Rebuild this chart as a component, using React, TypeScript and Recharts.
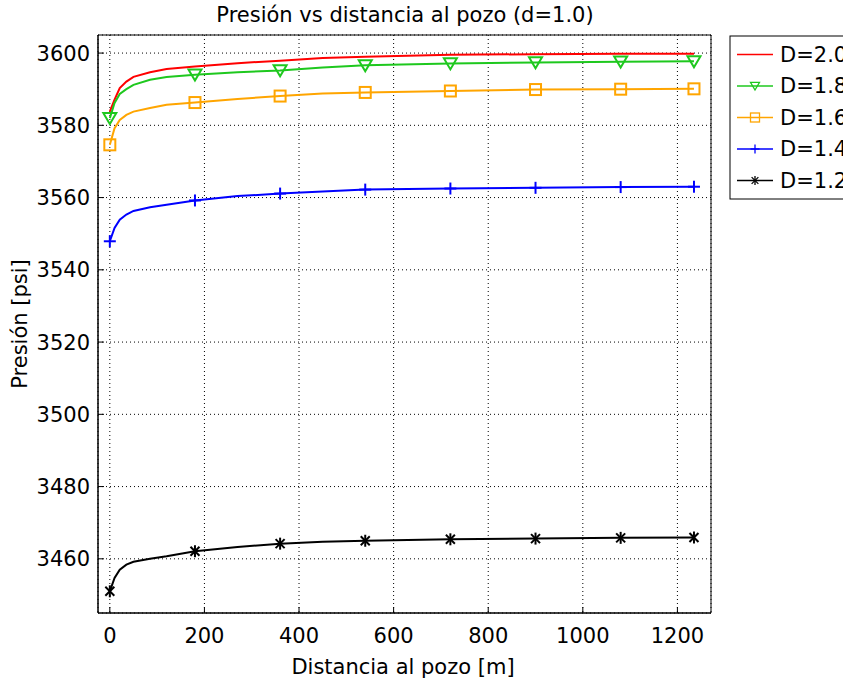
import React from 'react';
import { LineChart, Line, XAxis, YAxis, CartesianGrid, ReferenceArea, Label } from 'recharts';

// distance to the well [m]
const distances = [0, 10, 21, 35, 50, 85, 120, 180, 270, 360, 450, 540, 720, 900, 1080, 1235];
// marker positions (every 180 m + last point)
const markerAt = [0, 180, 360, 540, 720, 900, 1080, 1235];

const pD20 = [3583.8, 3587.1, 3590.3, 3592.1, 3593.4, 3594.7, 3595.6, 3596.3, 3597.2, 3597.9, 3598.6, 3599.0, 3599.5, 3599.7, 3599.8, 3599.8];
const pD18 = [3582.0, 3586.2, 3588.7, 3590.0, 3591.2, 3592.6, 3593.4, 3594.0, 3594.7, 3595.2, 3596.0, 3596.6, 3597.1, 3597.4, 3597.6, 3597.7];
const pD16 = [3574.6, 3579.2, 3581.5, 3582.9, 3583.8, 3584.8, 3585.7, 3586.3, 3587.3, 3588.1, 3588.8, 3589.1, 3589.5, 3589.9, 3590.0, 3590.1];
const pD14 = [3547.9, 3551.6, 3553.9, 3555.3, 3556.3, 3557.3, 3558.0, 3559.2, 3560.4, 3561.1, 3561.7, 3562.2, 3562.5, 3562.7, 3562.9, 3563.0];
const pD12 = [3451.0, 3454.7, 3457.0, 3458.4, 3459.2, 3460.0, 3460.7, 3462.1, 3463.3, 3464.2, 3464.7, 3465.0, 3465.4, 3465.6, 3465.8, 3465.9];

const xTicks = [0, 200, 400, 600, 800, 1000, 1200];
const yTicks = [3460, 3480, 3500, 3520, 3540, 3560, 3580, 3600];

const title = 'Presión vs distancia al pozo (d=1.0)';
const xLabel = 'Distancia al pozo [m]';
const yLabel = 'Presión [psi]';

const series = [
  { key: 'd20', name: 'D=2.0', color: '#ff0000', marker: 'none', values: pD20 },
  { key: 'd18', name: 'D=1.8', color: '#1ec81e', marker: 'tri', values: pD18 },
  { key: 'd16', name: 'D=1.6', color: '#ffa500', marker: 'square', values: pD16 },
  { key: 'd14', name: 'D=1.4', color: '#0000ff', marker: 'plus', values: pD14 },
  { key: 'd12', name: 'D=1.2', color: '#000000', marker: 'star', values: pD12 },
];

const data = distances.map((x, i) => {
  const row: any = { x, mk: markerAt.includes(x) };
  series.forEach((s) => { row[s.key] = s.values[i]; });
  return row;
});

const FONT = 'DejaVu Sans';
const FS = 21;
const X_DOMAIN: [number, number] = [-25, 1271];
const Y_DOMAIN: [number, number] = [3445, 3605];

function MarkerShape({ type, cx, cy, color, size, sw = 2 }: { type: string; cx: number; cy: number; color: string; size: number; sw?: number }) {
  const h = size / 2;
  if (type === 'tri') {
    return <polygon points={`${cx - h},${cy - h * 0.8} ${cx + h},${cy - h * 0.8} ${cx},${cy + h * 0.9}`} fill="none" stroke={color} strokeWidth={sw} />;
  }
  if (type === 'square') {
    return <rect x={cx - h} y={cy - h} width={size} height={size} fill="none" stroke={color} strokeWidth={sw} />;
  }
  if (type === 'plus') {
    return (
      <g stroke={color} strokeWidth={sw}>
        <line x1={cx - h} y1={cy} x2={cx + h} y2={cy} />
        <line x1={cx} y1={cy - h} x2={cx} y2={cy + h} />
      </g>
    );
  }
  if (type === 'star') {
    const d = h * 0.75;
    return (
      <g stroke={color} strokeWidth={sw}>
        <line x1={cx - d} y1={cy - d} x2={cx + d} y2={cy + d} />
        <line x1={cx - d} y1={cy + d} x2={cx + d} y2={cy - d} />
        <line x1={cx} y1={cy - h} x2={cx} y2={cy + h} />
      </g>
    );
  }
  return null;
}

const makeDot = (s: any, size: number) => (props: any) => {
  const { cx, cy, payload, index } = props;
  if (!payload || !payload.mk || s.marker === 'none') return <g key={`${s.key}-${index}`} />;
  return (
    <g key={`${s.key}-${index}`}>
      <MarkerShape type={s.marker} cx={cx} cy={cy} color={s.color} size={size} />
    </g>
  );
};

function LegendBox() {
  return (
    <svg width={140} height={170} style={{ position: 'absolute', left: 729, top: 35, overflow: 'visible' }}>
      <rect x={1} y={1} width={136} height={163} fill="#fff" stroke="#000" strokeWidth={1} />
      {series.map((s, i) => {
        const y = 19.5 + i * 31.5;
        return (
          <g key={s.key}>
            <line x1={8} y1={y} x2={44} y2={y} stroke={s.color} strokeWidth={1.3} />
            <MarkerShape type={s.marker} cx={26} cy={y} color={s.color} size={9} sw={1.3} />
            <text x={51} y={y} dominantBaseline="central" fontFamily={FONT} fontSize={FS} fill="#000">{s.name}</text>
          </g>
        );
      })}
    </svg>
  );
}

export default function App() {
  return (
    <div style={{ position: 'absolute', left: 0, top: 0, width: 843, height: 687, overflow: 'hidden', background: '#fff' }}>
      <LineChart width={843} height={687} data={data} margin={{ top: 35, right: 132, bottom: 0, left: 0 }}>
        <CartesianGrid stroke="#000" strokeDasharray="1 3" strokeWidth={1} />
        <XAxis
          dataKey="x"
          type="number"
          domain={X_DOMAIN}
          ticks={xTicks}
          allowDataOverflow
          height={74}
          axisLine={{ stroke: '#000' }}
          tickLine={{ stroke: '#000' }}
          tickSize={-6}
          tickMargin={21}
          tick={{ fill: '#000', fontFamily: FONT, fontSize: FS }}
        >
          <Label
            content={() => (
              <text x={403} y={667} textAnchor="middle" dominantBaseline="central" fontFamily={FONT} fontSize={FS} fill="#000">{xLabel}</text>
            )}
          />
          <Label
            content={() => (
              <text x={405} y={15} textAnchor="middle" dominantBaseline="central" fontFamily={FONT} fontSize={FS} fill="#000">{title}</text>
            )}
          />
        </XAxis>
        <XAxis
          xAxisId="top"
          orientation="top"
          dataKey="x"
          type="number"
          domain={X_DOMAIN}
          ticks={xTicks}
          allowDataOverflow
          height={0}
          axisLine={{ stroke: '#000' }}
          tickLine={{ stroke: '#000' }}
          tickSize={-6}
          tick={false}
        />
        <YAxis
          type="number"
          domain={Y_DOMAIN}
          ticks={yTicks}
          allowDataOverflow
          width={98}
          axisLine={{ stroke: '#000' }}
          tickLine={{ stroke: '#000' }}
          tickSize={-6}
          tickMargin={14}
          tick={{ fill: '#000', fontFamily: FONT, fontSize: FS }}
        >
          <Label
            content={() => (
              <text x={20} y={324} transform="rotate(-90, 20, 324)" textAnchor="middle" dominantBaseline="central" fontFamily={FONT} fontSize={FS} fill="#000">{yLabel}</text>
            )}
          />
        </YAxis>
        <YAxis
          yAxisId="right"
          orientation="right"
          type="number"
          domain={Y_DOMAIN}
          ticks={yTicks}
          allowDataOverflow
          width={0}
          axisLine={{ stroke: '#000' }}
          tickLine={{ stroke: '#000' }}
          tickSize={-6}
          tick={false}
        />
        <ReferenceArea x1={X_DOMAIN[0]} x2={X_DOMAIN[1]} y1={Y_DOMAIN[0]} y2={Y_DOMAIN[1]} fill="none" stroke="#000" strokeWidth={1} ifOverflow="visible" />
        {series.map((s) => (
          <Line
            key={s.key}
            dataKey={s.key}
            name={s.name}
            type="linear"
            stroke={s.color}
            strokeWidth={2}
            dot={makeDot(s, s.marker === 'tri' ? 13 : s.marker === 'square' ? 11 : 12)}
            activeDot={false}
            isAnimationActive={false}
          />
        ))}
      </LineChart>
      <LegendBox />
    </div>
  );
}
